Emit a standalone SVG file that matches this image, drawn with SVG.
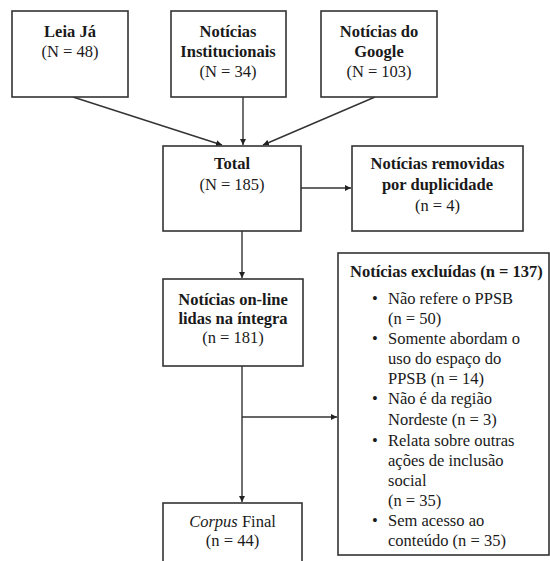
<svg xmlns="http://www.w3.org/2000/svg" width="550" height="561" viewBox="0 0 550 561">
<defs>
<style>
.box{fill:#fff;stroke:#333;stroke-width:1.6}
.t{font-family:'Liberation Serif','DejaVu Serif',serif;font-size:16.5px;fill:#1a1a1a;text-anchor:middle}
.b{font-weight:bold}
.l{text-anchor:start}
.c{stroke:#333;stroke-width:1.4;fill:none}
</style>
<marker id="ah" viewBox="0 0 10 10" refX="10" refY="5" markerWidth="6" markerHeight="6" orient="auto" markerUnits="userSpaceOnUse"><path d="M0,0 L10,5 L0,10 z" fill="#222"/></marker>
</defs>
<rect width="550" height="561" fill="#fff"/>
<g id="connectors">
<line class="c" x1="73" y1="97" x2="222" y2="145" marker-end="url(#ah)"/>
<line class="c" x1="243" y1="97" x2="243" y2="145" marker-end="url(#ah)"/>
<line class="c" x1="375" y1="97" x2="263" y2="145" marker-end="url(#ah)"/>
<line class="c" x1="301" y1="188" x2="351" y2="188" marker-end="url(#ah)"/>
<line class="c" x1="242" y1="231" x2="242" y2="278" marker-end="url(#ah)"/>
<line class="c" x1="242" y1="366" x2="242" y2="502" marker-end="url(#ah)"/>
<line class="c" x1="242" y1="417" x2="337" y2="417" marker-end="url(#ah)"/>
</g>
<g id="leia" font-family="Liberation Serif, DejaVu Serif, serif">
<rect class="box" x="12" y="11" width="116" height="86"/>
<text class="t b" x="70" y="37">Leia Já</text>
<text class="t" x="70" y="57">(N = 48)</text>
</g>
<g id="institucionais" font-family="Liberation Serif, DejaVu Serif, serif">
<rect class="box" x="171" y="11" width="115" height="86"/>
<text class="t b" x="228" y="37">Notícias</text>
<text class="t b" x="228" y="57">Institucionais</text>
<text class="t" x="228" y="77">(N = 34)</text>
</g>
<g id="google" font-family="Liberation Serif, DejaVu Serif, serif">
<rect class="box" x="321" y="11" width="116" height="86"/>
<text class="t b" x="379" y="37">Notícias do</text>
<text class="t b" x="379" y="57">Google</text>
<text class="t" x="379" y="77">(N = 103)</text>
</g>
<g id="total" font-family="Liberation Serif, DejaVu Serif, serif">
<rect class="box" x="163" y="146" width="138" height="85"/>
<text class="t b" x="232" y="169">Total</text>
<text class="t" x="232" y="190">(N = 185)</text>
</g>
<g id="removidas" font-family="Liberation Serif, DejaVu Serif, serif">
<rect class="box" x="352" y="146" width="171" height="85"/>
<text class="t b" x="437.5" y="169">Notícias removidas</text>
<text class="t b" x="437.5" y="190">por duplicidade</text>
<text class="t" x="437.5" y="211">(n = 4)</text>
</g>
<g id="online" font-family="Liberation Serif, DejaVu Serif, serif">
<rect class="box" x="163" y="279" width="140" height="87"/>
<text class="t b" x="233" y="305">Notícias on-line</text>
<text class="t b" x="233" y="324">lidas na íntegra</text>
<text class="t" x="233" y="343">(n = 181)</text>
</g>
<g id="excluidas" font-family="Liberation Serif, DejaVu Serif, serif">
<rect class="box" x="338" y="253" width="211" height="302"/>
<text class="t b l" x="350" y="277">Notícias excluídas (n = 137)</text>
<g class="t l">
<text x="372" y="304">•</text><text x="388" y="304">Não refere o PPSB</text>
<text x="388" y="324">(n = 50)</text>
<text x="372" y="344">•</text><text x="388" y="344">Somente abordam o</text>
<text x="388" y="364">uso do espaço do</text>
<text x="388" y="384">PPSB (n = 14)</text>
<text x="372" y="404">•</text><text x="388" y="404">Não é da região</text>
<text x="388" y="425">Nordeste (n = 3)</text>
<text x="372" y="446">•</text><text x="388" y="446">Relata sobre outras</text>
<text x="388" y="466">ações de inclusão</text>
<text x="388" y="486">social</text>
<text x="388" y="506">(n = 35)</text>
<text x="372" y="526">•</text><text x="388" y="526">Sem acesso ao</text>
<text x="388" y="546">conteúdo (n = 35)</text>
</g>
</g>
<g id="corpus" font-family="Liberation Serif, DejaVu Serif, serif">
<rect class="box" x="163" y="503" width="139" height="80"/>
<text class="t" x="232.5" y="527"><tspan font-style="italic">Corpus</tspan> Final</text>
<text class="t" x="232.5" y="546">(n = 44)</text>
</g>
</svg>
